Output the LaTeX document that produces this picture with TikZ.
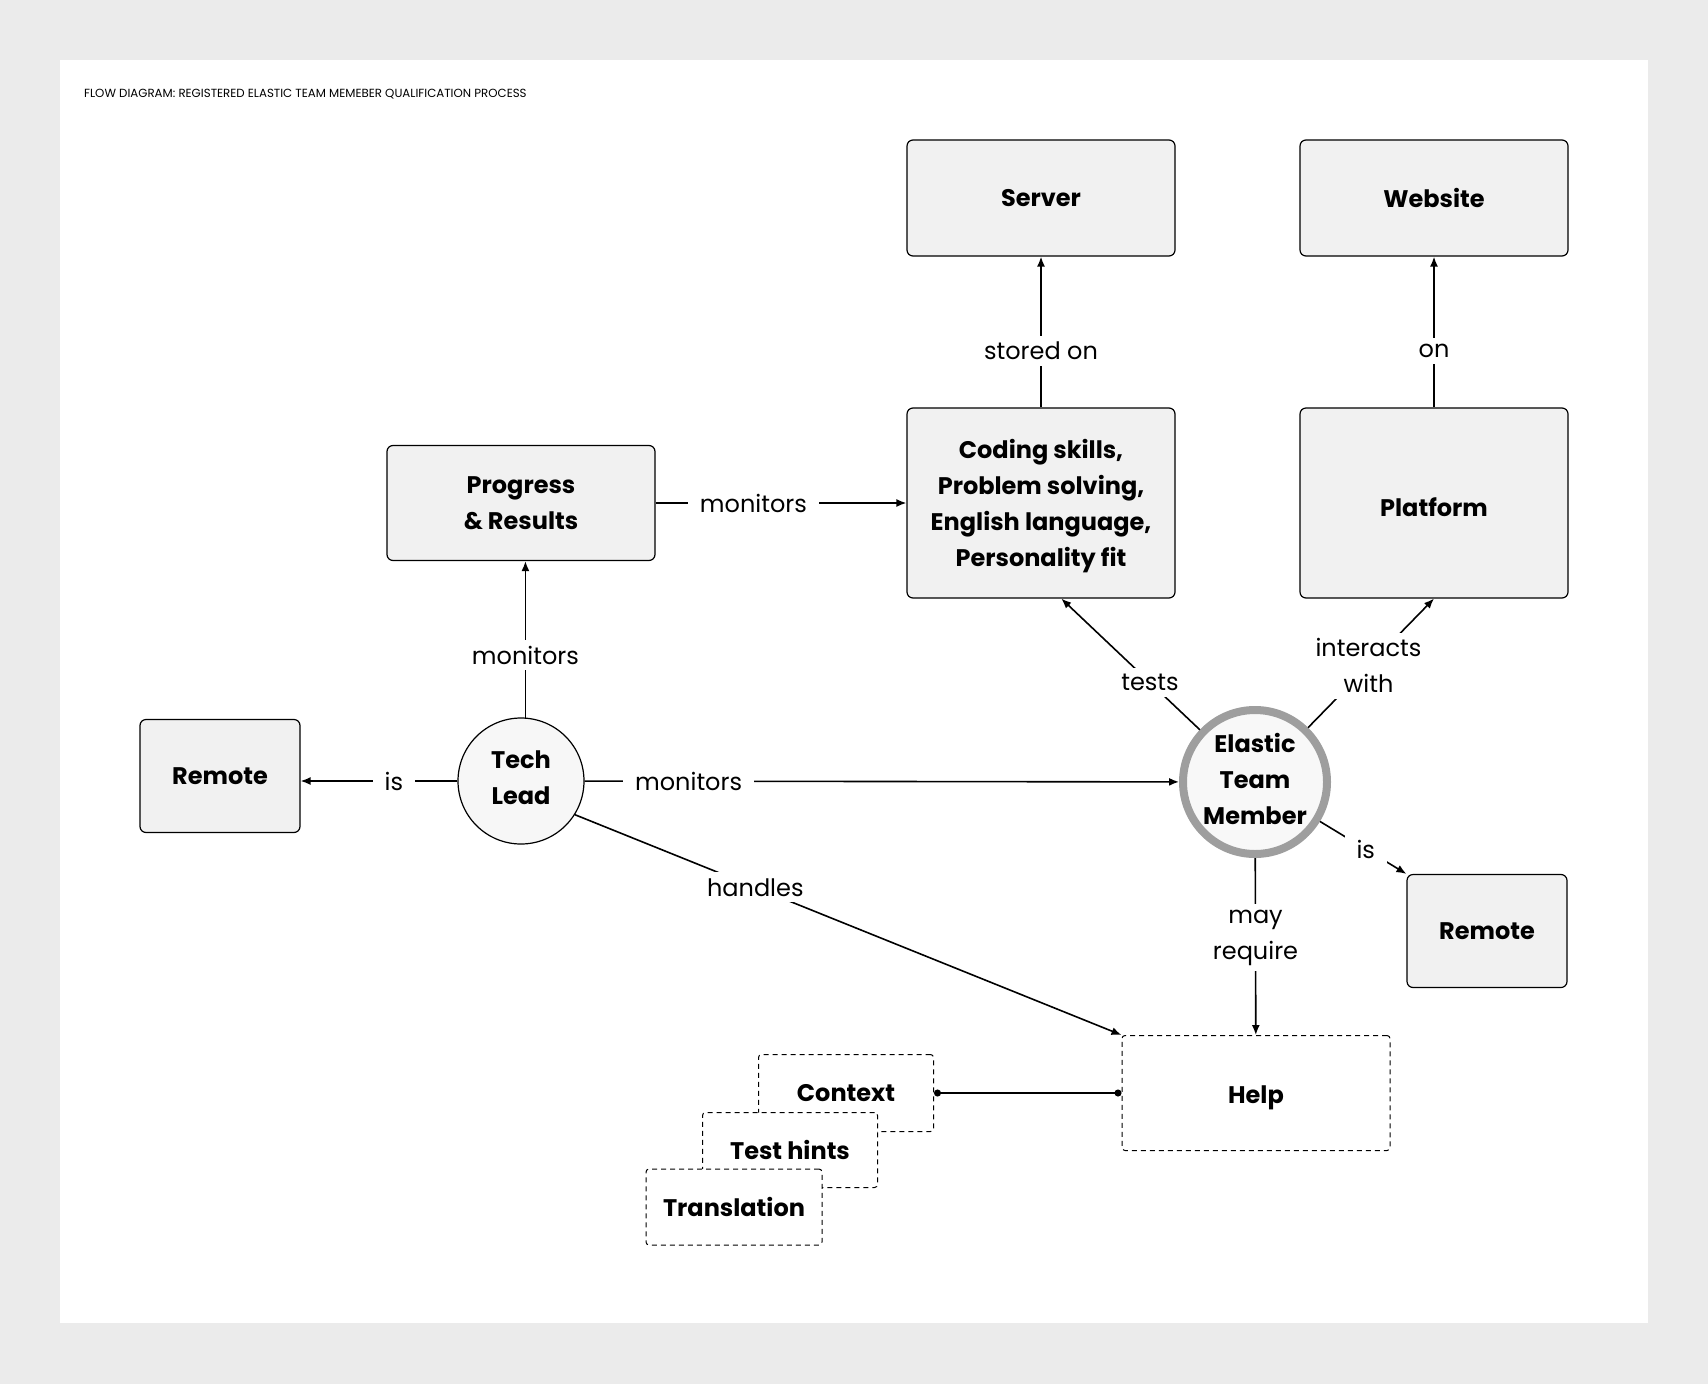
\documentclass[tikz,border=0pt]{standalone}
\usepackage{fontspec}
\setmainfont{Poppins}
\usepackage{tikz}
\usetikzlibrary{arrows.meta}
\definecolor{pagegray}{HTML}{EBEBEB}
\definecolor{boxgray}{HTML}{F1F1F1}
\definecolor{ringgray}{HTML}{9E9E9E}

\begin{document}
\begin{tikzpicture}[x=1pt, y=-1pt,
    box/.style={draw, fill=boxgray, rounded corners=6pt, line width=1.2pt,
      minimum width=268pt, minimum height=116pt, align=center,
      font=\fontsize{24}{36}\selectfont\bfseries},
    smallbox/.style={box, minimum width=160pt, minimum height=113pt},
    dashbox/.style={draw, fill=white, rounded corners=3pt, line width=1pt,
      dash pattern=on 5pt off 4pt, align=center,
      font=\fontsize{24}{36}\selectfont\bfseries},
    lowtext/.style={execute at begin node={\rule{0pt}{27pt}}},
    person/.style={circle, draw, fill=boxgray!60, line width=1.2pt,
      minimum size=126pt, inner sep=0pt, align=center, text depth=7pt,
      font=\fontsize{24}{36}\selectfont\bfseries},
    conn/.style={line width=1.6pt, -{Latex[length=10pt,width=8pt]}},
    lbl/.style={fill=white, inner xsep=12pt, inner ysep=6pt, align=center,
      font=\fontsize{24}{36}\selectfont}]

  % 1. page and sheet
  \fill[pagegray] (0,0) rectangle (1708,1384);
  \fill[white] (60,60) rectangle (1648,1323);
  \useasboundingbox (0,0) rectangle (1708,1384);
  \node[anchor=base west, inner sep=0pt, font=\fontsize{11.8}{13}\selectfont] (title) at (84,97)
    {FLOW DIAGRAM: REGISTERED ELASTIC TEAM MEMEBER QUALIFICATION PROCESS};

  % 2. boxes
  \node[box] (server) at (1041,198) {Server};
  \node[box] (website) at (1434,198) {Website};
  \node[box, text depth=-2pt, minimum height=190pt] (skills) at (1041,503)
    {Coding skills,\\Problem solving,\\English language,\\Personality fit};
  \node[box, lowtext, minimum height=190pt] (platform) at (1434,503) {Platform};
  \node[box, minimum height=115pt] (progress) at (521,503) {Progress\\\& Results};
  \node[smallbox] (remoteA) at (220,776) {Remote};
  \node[smallbox] (remoteB) at (1487,931) {Remote};

  % 3. people
  \node[person] (lead) at (521,781) {Tech\\Lead};
  \node[person, draw=ringgray, line width=8pt, fill=boxgray!50, minimum size=144pt] (member) at (1255,782)
    {Elastic\\Team\\Member};

  % 4. help and its parts
  \node[dashbox, lowtext, minimum width=268pt, minimum height=115pt] (help) at (1256,1093) {Help};
  \node[dashbox, minimum width=175pt, minimum height=77pt] (context) at (846,1093) {Context};
  \node[dashbox, minimum width=175pt, minimum height=75pt] (hints) at (790,1150) {Test hints};
  \node[dashbox, minimum width=176pt, minimum height=76pt] (transl) at (734,1207) {Translation};

  % 5. connectors
  \draw[conn] (skills) -- node[lbl, pos=0.375]{stored on} (server);
  \draw[conn] (platform) -- node[lbl, pos=0.375]{on} (website);
  \draw[conn] (progress) -- node[lbl, pos=0.39]{monitors} (skills);
  \draw[conn] (lead.86) -- node[lbl, pos=0.40]{monitors} (lead.86 |- progress.south);
  \draw[conn] (lead) -- node[lbl, pos=0.405]{is} (lead.west -| remoteA.east);
  \draw[conn] (lead) -- node[lbl, pos=0.175]{monitors} (member);
  \draw[conn] (lead.-32) -- node[lbl, pos=0.33]{handles} (help.north west);
  \draw[conn] (member) -- node[lbl, pos=0.36]{tests} (skills.-78);
  \draw[conn] (member) -- node[lbl, pos=0.48]{interacts\\with} (platform.south);
  \draw[conn] (member) -- node[lbl, pos=0.53]{is} (remoteB.north west);
  \draw[conn] (member) -- node[lbl, pos=0.45]{may\\require} (help);
  \draw[line width=1.6pt, {Circle[length=7pt]}-{Circle[length=7pt]}] (context.east) -- (help.west);
\end{tikzpicture}
\end{document}
